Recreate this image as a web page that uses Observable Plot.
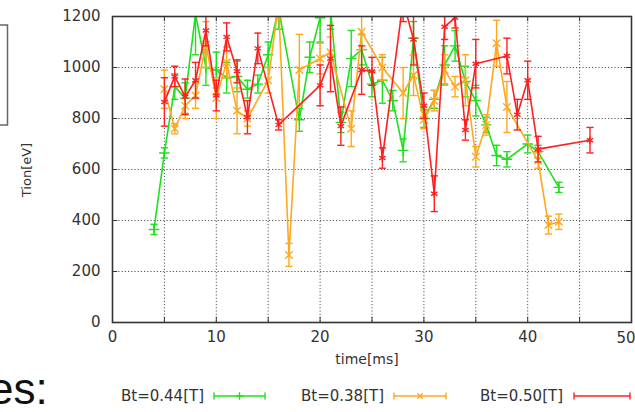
<!DOCTYPE html>
<html><head><meta charset="utf-8">
<script src="https://cdn.jsdelivr.net/npm/d3@7"></script>
<script src="https://cdn.jsdelivr.net/npm/@observablehq/plot@0.6"></script>
<style>
html,body{margin:0;padding:0;background:#fff;}
#wrap{position:relative;width:635px;height:412px;overflow:hidden;background:#fff;}
#chart{position:absolute;left:0;top:0;}
#extras{position:absolute;left:0;top:0;pointer-events:none;}
</style></head><body>
<div id="wrap"><div id="chart"></div><svg id="extras" width="635" height="412"></svg></div>
<script>
const seriesNames = ["Bt=0.44[T]", "Bt=0.38[T]", "Bt=0.50[T]"];
const seriesColors = ["#1fe01f", "#ffa81f", "#ff1f1f"];
const seriesSymbols = ["plus", "times", "asterisk"];

const greenTime = [4, 5, 6, 7, 8, 9, 10, 11, 12, 13, 14, 15, 16, 18, 19, 20, 21, 22, 23, 24, 25, 26, 27, 28, 29, 30, 31, 32, 33, 34, 35, 36, 37, 38, 40, 41, 43];
const greenTion = [365, 665, 925, 880, 1210, 1000, 990, 960, 965, 915, 935, 1050, 1230, 795, 1040, 1195, 1230, 785, 1035, 1070, 935, 950, 870, 675, 1115, 800, 875, 1010, 1085, 945, 870, 775, 655, 640, 700, 670, 530];
const greenErr  = [20, 20, 50, 60, 160, 70, 70, 60, 60, 35, 35, 50, 80, 45, 60, 95, 80, 40, 110, 60, 50, 90, 40, 45, 65, 35, 35, 75, 60, 60, 60, 30, 40, 30, 35, 25, 20];

const orangeTime = [5, 6, 7, 8, 9, 10, 11, 12, 13, 15, 16, 17, 18, 20, 21, 23, 24, 26, 28, 29, 30, 31, 32, 33, 34, 35, 36, 37, 38, 41, 42, 43];
const orangeTion = [915, 760, 850, 890, 1090, 880, 1020, 830, 800, 950, 1250, 265, 990, 1035, 1060, 760, 1140, 1000, 900, 970, 795, 870, 990, 925, 950, 650, 775, 1095, 845, 635, 382, 395];
const orangeErr  = [75, 20, 50, 50, 90, 80, 60, 90, 30, 50, 60, 45, 140, 60, 60, 70, 70, 50, 100, 80, 35, 40, 60, 40, 100, 40, 40, 90, 100, 30, 35, 30];

const redTime = [5, 6, 7, 8, 9, 10, 11, 12, 13, 14, 16, 20, 21, 22, 24, 25, 26, 28, 29, 30, 31, 32, 33, 34, 35, 38, 39, 40, 41, 46];
const redTion = [865, 965, 885, 950, 1145, 890, 1120, 985, 805, 1075, 775, 930, 1035, 770, 990, 985, 645, 1260, 1110, 850, 505, 1160, 1195, 755, 1015, 1045, 815, 950, 680, 715];
const redErr  = [95, 40, 70, 70, 60, 60, 55, 45, 65, 60, 20, 80, 130, 75, 95, 55, 40, 80, 100, 50, 70, 50, 40, 40, 95, 70, 60, 75, 50, 50];

const xTicks = [0, 10, 20, 30, 40];
const xLastTick = [50];
const xGrid = [5, 10, 15, 20, 25, 30, 35, 40, 45];
const xMinor = [5, 10, 15, 20, 25, 30, 35, 40, 45];
const yTicks = [0, 200, 400, 600, 800, 1000, 1200];
const yGrid = [200, 400, 600, 800, 1000];
const xLabel = "time[ms]";
const yLabel = "Tion[eV]";
const sideText = "es:";

const seriesData = [
  [greenTime, greenTion, greenErr],
  [orangeTime, orangeTion, orangeErr],
  [redTime, redTion, redErr]
].map(([ts, vs, es], i) => ts.map((t, j) => ({series: seriesNames[i], t, v: vs[j], e: es[j]})));

const capHalf = 0.35;
const seriesMarks = seriesData.flatMap(rows => [
  Plot.ruleX(rows, {x: "t", y1: d => d.v - d.e, y2: d => d.v + d.e, stroke: "series", strokeWidth: 1.4, clip: true}),
  Plot.link(rows, {x1: d => d.t - capHalf, x2: d => d.t + capHalf, y1: d => d.v - d.e, y2: d => d.v - d.e, stroke: "series", strokeWidth: 1.4, clip: true}),
  Plot.link(rows, {x1: d => d.t - capHalf, x2: d => d.t + capHalf, y1: d => d.v + d.e, y2: d => d.v + d.e, stroke: "series", strokeWidth: 1.4, clip: true}),
  Plot.line(rows, {x: "t", y: "v", stroke: "series", strokeWidth: 1.6, clip: true}),
  Plot.dot(rows, {x: "t", y: "v", stroke: "series", symbol: "series", r: 3.5, strokeWidth: 1.4, clip: true})
]);

const plot = Plot.plot({
  width: 635, height: 372,
  marginLeft: 112, marginRight: 4, marginTop: 16, marginBottom: 50,
  style: {fontFamily: "DejaVu Sans", fontSize: "15px", color: "#333", background: "transparent", overflow: "visible"},
  x: {domain: [0, 50]},
  y: {domain: [0, 1200]},
  color: {domain: seriesNames, range: seriesColors},
  symbol: {domain: seriesNames, range: seriesSymbols},
  marks: [
    Plot.ruleX(xGrid, {stroke: "#555", strokeDasharray: "1.2,2", strokeWidth: 1}),
    Plot.ruleY(yGrid, {stroke: "#555", strokeDasharray: "1.2,2", strokeWidth: 1}),
    Plot.ruleX(xMinor, {y1: 0, y2: 20, stroke: "#333"}),
    Plot.ruleX(xMinor, {y1: 1180, y2: 1200, stroke: "#333"}),
    Plot.ruleY(yTicks, {x1: 0, x2: 0.5, stroke: "#333"}),
    Plot.ruleY(yTicks, {x1: 49.5, x2: 50, stroke: "#333"}),
    Plot.axisX({ticks: xTicks, tickSize: 0, tickPadding: 9, label: null, fontSize: 15, tickFormat: d3.format("d")}),
    Plot.text(xLastTick, {x: d => d, y: 0, dy: 16, dx: 4, textAnchor: "end", fontSize: 15, fill: "#333", text: d => String(d)}),
    Plot.axisY({ticks: yTicks, tickSize: 0, tickPadding: 12, label: null, fontSize: 15, tickFormat: d3.format("d")}),
    ...seriesMarks,
    Plot.frame({stroke: "#333", strokeWidth: 1.6})
  ]
});
document.getElementById("chart").appendChild(plot);

// extras: axis labels, legend, fragments of the slide
const ex = d3.select("#extras");
ex.append("text").attr("x", 367).attr("y", 364).attr("text-anchor", "middle")
  .attr("font-family", "DejaVu Sans").attr("font-size", 14).attr("fill", "#333").text(xLabel);
ex.append("text").attr("transform", "translate(31,170) rotate(-90)").attr("text-anchor", "middle")
  .attr("font-family", "DejaVu Sans").attr("font-size", 13).attr("fill", "#333").text(yLabel);
ex.append("rect").attr("x", -4).attr("y", 25).attr("width", 11.5).attr("height", 100)
  .attr("fill", "none").attr("stroke", "#666").attr("stroke-width", 1.5);
ex.append("text").attr("x", -11).attr("y", 404).attr("font-family", "Liberation Sans")
  .attr("font-size", 44).attr("fill", "#111").text(sideText);

const legendX = [121, 301, 480];
const sampleX = [[214, 265], [394, 446], [574, 630]];
const legY = 396;
const sym = d3.scaleOrdinal(seriesNames, [d3.symbolPlus, d3.symbolTimes, d3.symbolAsterisk]);
seriesNames.forEach((name, i) => {
  ex.append("text").attr("x", legendX[i]).attr("y", legY + 5).attr("font-family", "DejaVu Sans")
    .attr("font-size", 15).attr("fill", "#333").text(name);
  const [a, b] = sampleX[i];
  const g = ex.append("g").attr("stroke", seriesColors[i]).attr("stroke-width", 1.4).attr("fill", "none");
  g.append("line").attr("x1", a).attr("x2", b).attr("y1", legY).attr("y2", legY);
  g.append("line").attr("x1", a).attr("x2", a).attr("y1", legY - 3.5).attr("y2", legY + 3.5);
  g.append("line").attr("x1", b).attr("x2", b).attr("y1", legY - 3.5).attr("y2", legY + 3.5);
  if (i < 2) g.append("path").attr("d", d3.symbol(sym(name), 20)()).attr("transform", `translate(${(a + b) / 2},${legY})`);
});
</script>
</body></html>
